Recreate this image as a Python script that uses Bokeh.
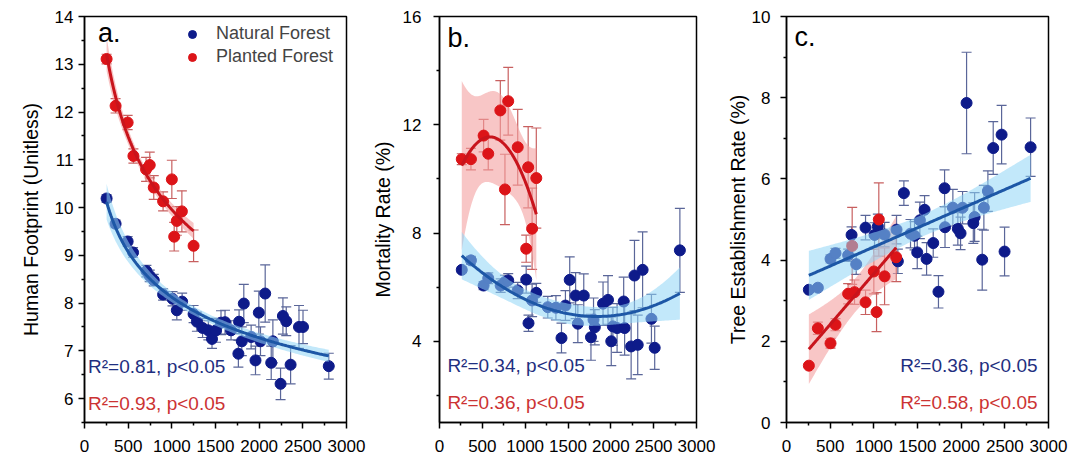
import numpy as np
from bokeh.plotting import figure
from bokeh.models import (FixedTicker, Whisker, TeeHead, ColumnDataSource, Legend,
                          LegendItem, Label, Range1d)
from bokeh.layouts import row
from bokeh.embed import file_html
from bokeh.resources import INLINE

# ---------------- data ----------------
x_ticks = [0, 500, 1000, 1500, 2000, 2500, 3000]

# panel a: Human Footprint
xa_nat = [253, 356, 494, 556, 709, 747, 793, 900, 1008, 1057, 1118, 1249, 1287, 1352, 1418, 1460, 1506, 1563, 1609, 1678,
          1762, 1770, 1801, 1824, 1908, 1958, 1996, 2015, 2069, 2138, 2157, 2245, 2272, 2310, 2360, 2456, 2502, 2797]
ya_nat = [10.19, 9.66, 9.29, 9.06, 8.67, 8.57, 8.48, 8.18, 8.09, 7.85, 8.03, 7.77, 7.61, 7.48, 7.43, 7.25, 7.43, 7.59, 7.60, 7.43,
          6.94, 7.61, 7.20, 7.99, 7.29, 6.80, 7.80, 7.20, 8.20, 6.75, 7.20, 6.31, 7.73, 7.62, 6.71, 7.50, 7.50, 6.68]
ea_nat = [0.08, 0.08, 0.10, 0.10, 0.12, 0.12, 0.12, 0.12, 0.15, 0.20, 0.18, 0.18, 0.20, 0.20, 0.20, 0.20, 0.25, 0.25, 0.25, 0.20,
          0.28, 0.25, 0.30, 0.40, 0.25, 0.30, 0.45, 0.30, 0.60, 0.35, 0.45, 0.33, 0.38, 0.30, 0.40, 0.45, 0.35, 0.27]
xa_pla = [253, 356, 494, 560, 705, 747, 793, 900, 1000, 1027, 1057, 1115, 1249]
ya_pla = [13.11, 12.13, 11.78, 11.08, 10.80, 10.89, 10.42, 10.13, 10.59, 9.39, 9.72, 9.92, 9.20]
ea_pla = [0.10, 0.15, 0.15, 0.15, 0.25, 0.27, 0.25, 0.20, 0.40, 0.30, 0.30, 0.43, 0.33]

# panel b: Mortality Rate
xb_nat = [260, 367, 515, 569, 714, 764, 802, 913, 1012, 1039, 1081, 1130, 1264, 1359, 1424, 1470, 1520, 1589, 1615, 1684,
          1768, 1798, 1813, 1909, 1967, 2005, 2024, 2073, 2150, 2161, 2237, 2276, 2314, 2371, 2474, 2512, 2806]
yb_nat = [6.64, 6.99, 6.06, 6.33, 6.06, 6.19, 6.25, 5.88, 6.28, 4.67, 5.51, 5.79, 5.26, 5.24, 4.12, 5.32, 6.27, 5.69, 4.65, 5.69,
          4.15, 4.80, 4.52, 5.39, 5.53, 4.00, 4.55, 4.49, 5.47, 4.49, 3.81, 6.43, 3.87, 6.64, 4.83, 3.76, 7.36]
eb_nat = [0.10, 0.15, 0.15, 0.20, 0.25, 0.25, 0.25, 0.30, 0.50, 0.30, 0.60, 0.35, 0.40, 0.45, 0.55, 0.55, 0.85, 0.85, 0.70, 0.80,
          0.85, 0.80, 0.65, 0.80, 0.90, 0.90, 0.70, 0.90, 0.90, 1.00, 1.20, 1.30, 1.10, 1.40, 0.90, 0.80, 1.55]
xb_pla = [260, 367, 515, 569, 710, 764, 802, 913, 1012, 1035, 1081, 1130]
yb_pla = [10.73, 10.73, 11.60, 10.93, 12.53, 9.61, 12.87, 11.17, 7.42, 10.43, 8.16, 10.03]
eb_pla = [0.20, 0.40, 0.60, 0.60, 1.10, 1.30, 1.25, 1.40, 0.50, 1.50, 1.50, 1.85]

# panel c: Tree Establishment Rate
xc_nat = [256, 359, 504, 561, 706, 745, 798, 905, 1008, 1046, 1123, 1260, 1275, 1344, 1420, 1466, 1497, 1527, 1581, 1604,
          1680, 1740, 1810, 1815, 1905, 1962, 1993, 2016, 2062, 2139, 2154, 2241, 2260, 2306, 2367, 2463, 2497, 2795]
yc_nat = [3.27, 3.32, 4.03, 4.17, 4.12, 4.62, 3.90, 4.80, 4.62, 4.83, 4.63, 4.75, 3.97, 5.65, 4.65, 4.60, 4.19, 4.98, 5.24, 4.03,
          4.42, 3.22, 5.77, 4.81, 5.29, 4.77, 4.66, 5.29, 7.87, 4.91, 5.06, 4.01, 5.29, 5.70, 6.76, 7.09, 4.21, 6.78]
ec_nat = [0.05, 0.06, 0.10, 0.12, 0.15, 0.20, 0.25, 0.30, 0.30, 0.30, 0.30, 0.35, 0.30, 0.30, 0.35, 0.35, 0.40, 0.45, 0.35, 0.40,
          0.35, 0.40, 0.45, 0.50, 0.45, 0.40, 0.40, 0.40, 1.25, 0.50, 0.60, 0.75, 0.55, 0.50, 0.65, 0.72, 0.60, 0.72]
xc_pla = [256, 359, 504, 561, 706, 752, 779, 905, 1000, 1031, 1057, 1123, 1256]
yc_pla = [1.40, 2.32, 1.95, 2.41, 3.17, 4.35, 3.21, 2.96, 3.72, 2.72, 5.00, 3.60, 4.07]
ec_pla = [0.05, 0.15, 0.12, 0.15, 0.25, 0.95, 0.30, 0.30, 0.55, 0.48, 0.90, 0.70, 0.60]

stats_a = ["R²=0.81, p<0.05", "R²=0.93, p<0.05"]
stats_b = ["R²=0.34, p<0.05", "R²=0.36, p<0.05"]
stats_c = ["R²=0.36, p<0.05", "R²=0.58, p<0.05"]

# ---------------- styles ----------------
FONT = "Liberation Sans"
NAT_PT, PLA_PT = "#0e1b8a", "#dc1418"
NAT_LN, PLA_LN = "#1d57a6", "#c8141c"
NAT_BAND, PLA_BAND = "#8fd5f5", "#f4a0a0"
NAT_ERR, PLA_ERR = "#5a6699", "#c86060"
NAT_TXT, PLA_TXT = "#1f2f80", "#cc3333"


def fit_band(x, y, kind, n=150, tmul=1.0):
    x = np.asarray(x, float)
    y = np.asarray(y, float)
    xs = np.linspace(x.min(), x.max(), n)

    def design(v):
        if kind == "power":
            return np.column_stack([np.ones_like(v), np.log(v)])
        if kind == "quad":
            return np.column_stack([np.ones_like(v), v / 1000.0, (v / 1000.0) ** 2])
        return np.column_stack([np.ones_like(v), v / 1000.0])

    X, Xs = design(x), design(xs)
    Y = np.log(y) if kind == "power" else y
    beta = np.linalg.lstsq(X, Y, rcond=None)[0]
    res = Y - X @ beta
    dof = len(Y) - X.shape[1]
    cov = (res @ res / dof) * np.linalg.inv(X.T @ X)
    fit = Xs @ beta
    se = np.sqrt(np.einsum("ij,jk,ik->i", Xs, cov, Xs))
    t = (1.96 + 2.4 / dof) * tmul
    lo, hi = fit - t * se, fit + t * se
    if kind == "power":
        fit, lo, hi = np.exp(fit), np.exp(lo), np.exp(hi)
    return xs, fit, lo, hi


def make_panel(width, bl, ylab, yr, yticks, yminor, lab_stand, title_stand, letter, letter_xy,
               nat, pla, kind, tmuls, stats, stat_pos, stat_align, legend=False):
    p = figure(width=width, height=459, x_range=Range1d(0, 3000), y_range=Range1d(*yr),
               output_backend="svg", toolbar_location=None, tools="")
    p.min_border_left = bl
    p.min_border_right = width - bl - 262
    p.min_border_top = 16
    p.min_border_bottom = 37
    p.grid.visible = False
    p.outline_line_color = "black"
    p.outline_line_width = 1.5
    p.background_fill_color = "white"
    p.border_fill_color = "white"

    p.xaxis.ticker = FixedTicker(ticks=x_ticks, minor_ticks=[250, 750, 1250, 1750, 2250, 2750])
    p.yaxis.ticker = FixedTicker(ticks=yticks, minor_ticks=yminor)
    for ax in (p.xaxis[0], p.yaxis[0]):
        ax.axis_line_color = "black"
        ax.axis_line_width = 1.5
        ax.major_tick_line_color = "black"
        ax.major_tick_line_width = 1.5
        ax.minor_tick_line_color = "black"
        ax.minor_tick_line_width = 1.5
        ax.major_tick_out = 6
        ax.major_tick_in = 0
        ax.minor_tick_out = 3
        ax.minor_tick_in = 0
        ax.major_label_text_font = FONT
        ax.major_label_text_font_size = "17px"
        ax.major_label_text_color = "black"
    p.xaxis.major_label_standoff = 11
    p.yaxis.major_label_standoff = lab_stand
    p.yaxis.axis_label = ylab
    p.yaxis.axis_label_text_font = FONT
    p.yaxis.axis_label_text_font_size = "19.5px"
    p.yaxis.axis_label_text_font_style = "normal"
    p.yaxis.axis_label_text_color = "black"
    p.yaxis.axis_label_standoff = title_stand

    srcs = []
    for xs_, ys_, es_, ec in (nat + (NAT_ERR,), pla + (PLA_ERR,)):
        src = ColumnDataSource(dict(x=xs_, y=ys_,
                                    lo=[a - b for a, b in zip(ys_, es_)],
                                    hi=[a + b for a, b in zip(ys_, es_)]))
        srcs.append(src)
        p.add_layout(Whisker(source=src, base="x", upper="hi", lower="lo", line_color=ec, line_width=1.2,
                             upper_head=TeeHead(size=10, line_color=ec, line_width=1.2),
                             lower_head=TeeHead(size=10, line_color=ec, line_width=1.2)))

    nfx, nfy, nlo, nhi = fit_band(nat[0], nat[1], kind, tmul=tmuls[0])
    pfx, pfy, plo, phi = fit_band(pla[0], pla[1], kind, tmul=tmuls[1])

    # planted band under the points, natural band over them (as in the reference)
    p.varea(x=pfx, y1=plo, y2=phi, fill_color=PLA_BAND, fill_alpha=0.6)
    r_nat = p.scatter("x", "y", source=srcs[0], size=11, color=NAT_PT, line_color=NAT_PT)
    r_pla = p.scatter("x", "y", source=srcs[1], size=11, color=PLA_PT, line_color=PLA_PT)
    p.varea(x=nfx, y1=nlo, y2=nhi, fill_color=NAT_BAND, fill_alpha=0.55)
    p.line(pfx, pfy, line_color=PLA_LN, line_width=3)
    p.line(nfx, nfy, line_color=NAT_LN, line_width=3)

    p.add_layout(Label(x=letter_xy[0], y=letter_xy[1], text=letter, text_font=FONT,
                       text_font_size="27px", text_color="black", text_baseline="alphabetic"))
    for txt, col, (sx, sy) in zip(stats, [NAT_TXT, PLA_TXT], stat_pos):
        p.add_layout(Label(x=sx, y=sy, text=txt, text_font=FONT, text_font_size="19px",
                           text_color=col, text_align=stat_align, text_baseline="middle"))

    if legend:
        lg = Legend(items=[LegendItem(label="Natural Forest", renderers=[r_nat]),
                           LegendItem(label="Planted Forest", renderers=[r_pla])],
                    location=(98, 355), margin=0, padding=0, spacing=2,
                    glyph_width=20, glyph_height=20, label_standoff=14,
                    label_text_font=FONT, label_text_font_size="18px",
                    border_line_color=None, background_fill_alpha=0)
        p.add_layout(lg)
    return p


pa = make_panel(368, 84, "Human Footprint (Unitless)", (5.5, 14),
                list(range(6, 15)), [5.5 + i for i in range(9)], 5, 10, "a.", (155, 13.66),
                (xa_nat, ya_nat, ea_nat), (xa_pla, ya_pla, ea_pla), "power", (0.7, 0.6),
                stats_a, [(40, 6.68), (40, 5.90)], "left", legend=True)

pb = make_panel(350, 66, "Mortality Rate (%)", (1, 16),
                [4, 8, 12, 16], [2, 6, 10, 14], 12, 6, "b.", (92, 15.22),
                (xb_nat, yb_nat, eb_nat), (xb_pla, yb_pla, eb_pla), "quad", (1.0, 1.25),
                stats_b, [(92, 3.11), (92, 1.74)], "left")

pc = make_panel(352, 68, "Tree Establishment Rate (%)", (0, 10),
                [0, 2, 4, 6, 8, 10], [1, 3, 5, 7, 9], 10, 0, "c.", (92, 9.49),
                (xc_nat, yc_nat, ec_nat), (xc_pla, yc_pla, ec_pla), "lin", (1.0, 1.0),
                stats_c, [(2875, 1.40), (2875, 0.49)], "right")

layout = row(pa, pb, pc)
open("out.html", "w").write(file_html(layout, INLINE))
